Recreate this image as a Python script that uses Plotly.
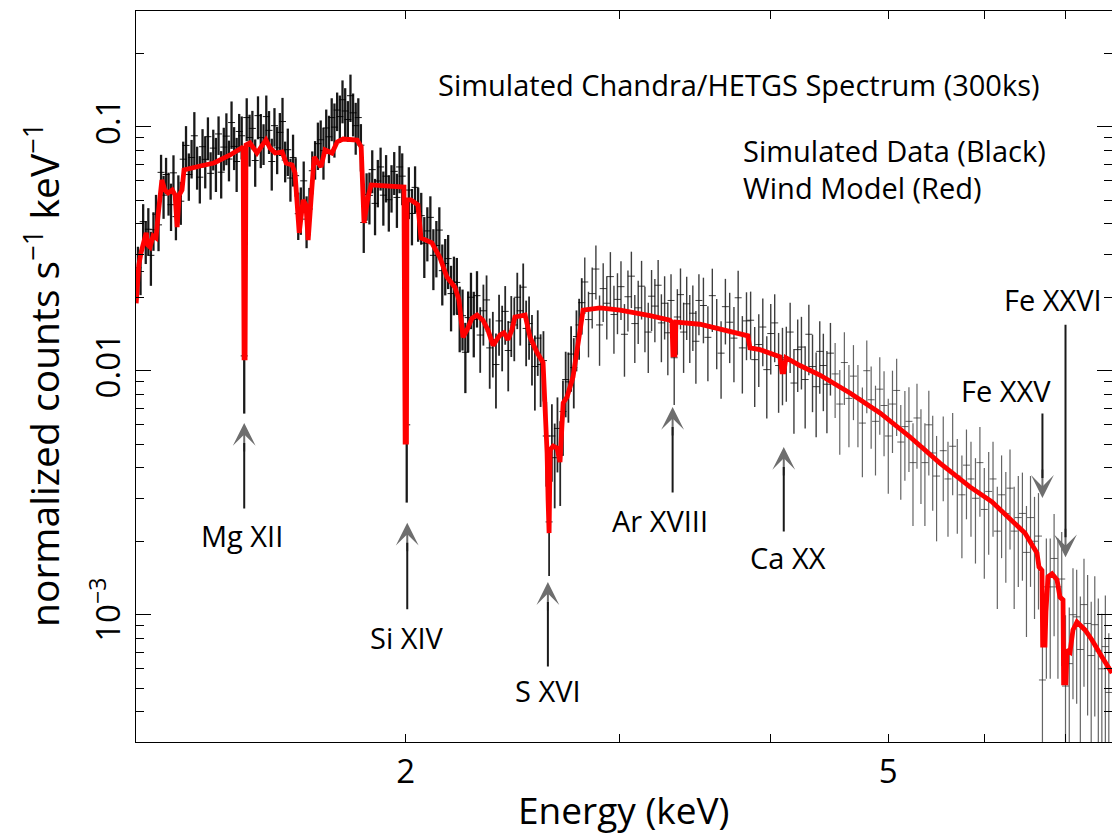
import math
import plotly.graph_objects as go

# ---------------- simulated HETGS data (energy keV, counts s^-1 keV^-1, relative error) -------------
energy_keV = [
    1.203, 1.209, 1.215, 1.221, 1.227, 1.233, 1.239, 1.245, 1.251, 1.257, 1.263, 1.269, 1.275, 1.281, 1.287, 1.293, 1.299, 1.305, 1.311,
    1.318, 1.325, 1.332, 1.339, 1.346, 1.353, 1.360, 1.367, 1.374, 1.381, 1.388, 1.395, 1.402, 1.409, 1.416, 1.423, 1.430, 1.437, 1.444, 1.451, 1.458, 1.465, 1.472,
    1.479, 1.487, 1.495, 1.503, 1.511, 1.519, 1.527, 1.535, 1.543, 1.551, 1.559, 1.567, 1.575, 1.583, 1.591, 1.599, 1.607, 1.615, 1.623, 1.631,
    1.639, 1.648, 1.657, 1.666, 1.675, 1.684, 1.693, 1.702, 1.711, 1.720, 1.729, 1.738, 1.747, 1.756, 1.765, 1.774, 1.783, 1.792, 1.801, 1.810, 1.819, 1.828,
    1.837, 1.847, 1.857, 1.867, 1.877, 1.887, 1.897, 1.907, 1.917, 1.927, 1.937, 1.947, 1.957, 1.967, 1.977, 1.987, 2.004,
    2.012, 2.024, 2.036, 2.048, 2.060, 2.072, 2.084, 2.096, 2.108, 2.120, 2.132, 2.144, 2.156, 2.168, 2.180, 2.192, 2.204, 2.216, 2.228, 2.240, 2.252, 2.264, 2.276,
    2.290, 2.304, 2.318, 2.332, 2.346, 2.360, 2.374, 2.388, 2.402, 2.416, 2.430, 2.444, 2.458, 2.472, 2.486, 2.500, 2.514, 2.528, 2.542, 2.556, 2.570, 2.584, 2.598, 2.612,
    2.626, 2.640, 2.654, 2.668, 2.682, 2.696, 2.710, 2.724, 2.738, 2.752, 2.766, 2.780, 2.794,
    2.81, 2.83, 2.85, 2.87, 2.89, 2.91, 2.93, 2.95, 2.97, 2.99, 3.01, 3.03, 3.05, 3.07, 3.09, 3.11, 3.13, 3.15, 3.17, 3.19, 3.21, 3.23, 3.25, 3.27, 3.29, 3.31, 3.33, 3.35, 3.37, 3.39, 3.41, 3.43, 3.45, 3.47, 3.49,
    3.52, 3.55, 3.58, 3.61, 3.64, 3.67, 3.70, 3.73, 3.76, 3.79, 3.82, 3.85, 3.88, 3.91, 3.94, 3.97, 4.00, 4.03, 4.06, 4.09, 4.12, 4.15, 4.18, 4.21, 4.24, 4.27, 4.30, 4.33, 4.36, 4.39, 4.42, 4.45, 4.48,
    4.52, 4.56, 4.60, 4.64, 4.68, 4.72, 4.76, 4.80, 4.84, 4.88, 4.92, 4.96, 5.00, 5.04, 5.08, 5.12, 5.16, 5.20, 5.24, 5.28, 5.32, 5.36, 5.40, 5.44, 5.48,
    5.55, 5.60, 5.65, 5.70, 5.75, 5.80, 5.85, 5.90, 5.95, 6.00, 6.05, 6.10, 6.15, 6.20, 6.25, 6.30, 6.35, 6.40, 6.45, 6.50, 6.55, 6.60, 6.65, 6.70, 6.75, 6.80, 6.85, 6.90, 6.95, 7.00, 7.05, 7.10, 7.15, 7.20, 7.25, 7.30, 7.35, 7.40, 7.45, 7.50, 7.55, 7.60,
]
counts = [
    0.0264, 0.0255, 0.0408, 0.0342, 0.0380, 0.0297, 0.0378, 0.0438, 0.0396, 0.0650, 0.0524, 0.0637, 0.0540, 0.0479, 0.0647, 0.0428, 0.0518, 0.0495, 0.0736,
    0.0838, 0.0637, 0.0748, 0.0918, 0.0690, 0.0621, 0.0828, 0.0735, 0.0910, 0.0644, 0.0817, 0.0720, 0.0934, 0.0651, 0.0825, 0.0915, 0.0737, 0.104, 0.0830, 0.0720, 0.0956, 0.0918, 0.0115,
    0.109, 0.0903, 0.0984, 0.0727, 0.111, 0.0902, 0.0860, 0.110, 0.0966, 0.0720, 0.101, 0.0819, 0.0948, 0.105, 0.0730, 0.0805, 0.0616, 0.0748, 0.0630, 0.0440,
    0.0462, 0.0600, 0.0418, 0.0460, 0.0660, 0.0740, 0.0852, 0.0884, 0.0798, 0.0988, 0.0909, 0.109, 0.0996, 0.117, 0.110, 0.129, 0.116, 0.107, 0.134, 0.114, 0.101, 0.109,
    0.0840, 0.0405, 0.0528, 0.0523, 0.0667, 0.0485, 0.0599, 0.0684, 0.0524, 0.0627, 0.0502, 0.0570, 0.0656, 0.0513, 0.0684, 0.0627, 0.0060,
    0.0550, 0.0441, 0.0564, 0.0450, 0.0432, 0.0333, 0.0374, 0.0425, 0.0297, 0.0326, 0.0377, 0.0257, 0.0275, 0.0288, 0.0207, 0.0231, 0.0230, 0.0170, 0.0168, 0.0119, 0.0165, 0.0200, 0.0162,
    0.0203, 0.0140, 0.0176, 0.0195, 0.0124, 0.0134, 0.0106, 0.0160, 0.0142, 0.0175, 0.0121, 0.0158, 0.0154, 0.0200, 0.0176, 0.0220, 0.0149, 0.0156, 0.0128, 0.0104, 0.0136, 0.0106, 0.0110, 0.0054,
    0.0024, 0.0054, 0.0044, 0.0058, 0.0045, 0.0068, 0.0092, 0.0090, 0.0117, 0.0103, 0.0138, 0.0154, 0.0190,
    0.0231, 0.0162, 0.0207, 0.0261, 0.0154, 0.0217, 0.0189, 0.0243, 0.0170, 0.0196, 0.0221, 0.0141, 0.0201, 0.0244, 0.0156, 0.0181, 0.0222, 0.0170, 0.0144, 0.0202, 0.0184, 0.0224, 0.0157, 0.0189, 0.0143, 0.0194, 0.0113, 0.0166, 0.0205, 0.0144, 0.0188, 0.0156, 0.0172, 0.0132, 0.0194,
    0.0185, 0.0137, 0.0203, 0.0149, 0.0118, 0.0183, 0.0158, 0.0136, 0.0199, 0.0124, 0.0160, 0.0161, 0.0111, 0.0128, 0.0151, 0.0101, 0.0142, 0.0157, 0.0105, 0.0111, 0.0113, 0.0144, 0.0089, 0.0122, 0.0125, 0.0092, 0.0141, 0.0104, 0.0086, 0.0120, 0.0105, 0.0088, 0.0118,
    0.0097, 0.0073, 0.0108, 0.0077, 0.0095, 0.0077, 0.0061, 0.0100, 0.0076, 0.0062, 0.0084, 0.0072, 0.0054, 0.0073, 0.0083, 0.0051, 0.0059, 0.0062, 0.0042, 0.0064, 0.0049, 0.0042, 0.0060, 0.0046, 0.0037,
    0.0047, 0.0036, 0.0049, 0.0037, 0.0031, 0.0041, 0.0036, 0.0030, 0.0042, 0.0027, 0.0032, 0.0036, 0.0022, 0.0031, 0.0026, 0.0033, 0.0022, 0.0025, 0.0026, 0.0018, 0.0025, 0.0020, 0.0021, 0.00054, 0.0013, 0.0013, 0.0017, 0.0013, 0.0014, 0.00051, 0.00063, 0.0010, 0.00098, 0.00072, 0.0011, 0.00092, 0.00068, 0.00091, 0.00071, 0.00060, 0.00074, 0.00048,
]
rel_err = [
    0.22, 0.20, 0.18, 0.20, 0.22, 0.25, 0.18, 0.20, 0.22, 0.18, 0.20, 0.17, 0.20, 0.22, 0.18, 0.20, 0.22, 0.20, 0.18,
    0.20, 0.22, 0.18, 0.25, 0.20, 0.22, 0.18, 0.24, 0.20, 0.22, 0.19, 0.25, 0.18, 0.22, 0.20, 0.24, 0.19, 0.22, 0.20, 0.25, 0.18, 0.20, 0.42,
    0.20, 0.24, 0.18, 0.22, 0.20, 0.25, 0.19, 0.22, 0.20, 0.24, 0.18, 0.22, 0.20, 0.25, 0.19, 0.22, 0.20, 0.24, 0.18, 0.22,
    0.22, 0.20, 0.24, 0.22, 0.20, 0.18, 0.22, 0.20, 0.24, 0.19, 0.22, 0.20, 0.25, 0.18, 0.22, 0.20, 0.24, 0.19, 0.22, 0.20, 0.24, 0.20,
    0.22, 0.25, 0.22, 0.24, 0.20, 0.26, 0.22, 0.20, 0.25, 0.22, 0.26, 0.22, 0.20, 0.25, 0.22, 0.24, 0.52,
    0.24, 0.26, 0.22, 0.25, 0.24, 0.28, 0.25, 0.22, 0.28, 0.26, 0.24, 0.28, 0.26, 0.25, 0.30, 0.27, 0.26, 0.30, 0.28, 0.32, 0.28, 0.26, 0.30,
    0.26, 0.30, 0.28, 0.26, 0.32, 0.30, 0.34, 0.28, 0.30, 0.27, 0.32, 0.28, 0.29, 0.26, 0.28, 0.25, 0.30, 0.29, 0.32, 0.34, 0.30, 0.33, 0.32, 0.38,
    0.40, 0.35, 0.38, 0.34, 0.38, 0.34, 0.30, 0.32, 0.30, 0.32, 0.28, 0.28, 0.26,
    0.26, 0.30, 0.28, 0.25, 0.32, 0.27, 0.29, 0.26, 0.31, 0.28, 0.27, 0.33, 0.28, 0.26, 0.31, 0.29, 0.27, 0.30, 0.32, 0.28, 0.29, 0.27, 0.31, 0.29, 0.33, 0.28, 0.36, 0.30, 0.28, 0.32, 0.29, 0.31, 0.30, 0.33, 0.28,
    0.30, 0.34, 0.29, 0.32, 0.35, 0.30, 0.32, 0.34, 0.29, 0.35, 0.31, 0.31, 0.36, 0.33, 0.31, 0.37, 0.32, 0.31, 0.36, 0.35, 0.34, 0.32, 0.38, 0.33, 0.33, 0.37, 0.32, 0.35, 0.38, 0.33, 0.35, 0.37, 0.33,
    0.34, 0.38, 0.33, 0.37, 0.34, 0.37, 0.40, 0.33, 0.37, 0.40, 0.35, 0.38, 0.42, 0.37, 0.35, 0.42, 0.40, 0.38, 0.45, 0.38, 0.42, 0.45, 0.38, 0.42, 0.46,
    0.38, 0.42, 0.37, 0.42, 0.45, 0.40, 0.42, 0.46, 0.40, 0.48, 0.45, 0.42, 0.52, 0.45, 0.48, 0.44, 0.52, 0.48, 0.47, 0.55, 0.48, 0.52, 0.50, 0.90, 0.58, 0.58, 0.52, 0.58, 0.56, 0.95, 0.70, 0.55, 0.56, 0.65, 0.54, 0.58, 0.66, 0.58, 0.64, 0.68, 0.62, 0.75,
]

# ---------------- wind model (red) ----------------
model_energy = [
    1.199, 1.205, 1.210, 1.217, 1.222, 1.226, 1.231, 1.238, 1.245, 1.250,
    1.259, 1.266, 1.274, 1.284, 1.291, 1.296, 1.301, 1.308, 1.313, 1.354,
    1.390, 1.433, 1.469, 1.4716, 1.4744, 1.477, 1.488, 1.508, 1.523, 1.534,
    1.546, 1.561, 1.582, 1.594, 1.612, 1.621, 1.634, 1.646, 1.655, 1.662,
    1.671, 1.681, 1.703, 1.716, 1.739, 1.756, 1.776, 1.824, 1.838, 1.848,
    1.855, 1.862, 1.873, 1.942, 1.9935, 1.998, 2.003, 2.005, 2.020, 2.047,
    2.059, 2.102, 2.135, 2.163, 2.196, 2.213, 2.230, 2.247, 2.268, 2.290,
    2.316, 2.338, 2.361, 2.392, 2.410, 2.429, 2.447, 2.461, 2.509, 2.533,
    2.566, 2.596, 2.611, 2.616, 2.621, 2.626, 2.631, 2.646, 2.666, 2.681,
    2.697, 2.717, 2.748, 2.774, 2.801, 2.893, 3.005, 3.180, 3.303, 3.316,
    3.322, 3.335, 3.341, 3.496, 3.701, 3.830, 3.845, 3.919, 4.070, 4.086,
    4.101, 4.117, 4.228, 4.391, 4.649, 4.922, 5.211, 5.515, 5.839, 6.088,
    6.481, 6.631, 6.656, 6.694, 6.703, 6.733, 6.745, 6.771, 6.823, 6.888,
    6.927, 6.967, 6.975, 7.006, 7.020, 7.060, 7.100, 7.154, 7.264, 7.361,
    7.502, 7.646,
]
model_counts = [
    0.0189, 0.0271, 0.0304, 0.0343, 0.0367, 0.0327, 0.0321, 0.0357, 0.0350, 0.0435,
    0.0605, 0.0550, 0.0535, 0.0550, 0.0525, 0.0388, 0.0525, 0.0550, 0.0665, 0.0690,
    0.0710, 0.0766, 0.0826, 0.0113, 0.0113, 0.0841, 0.0858, 0.0780, 0.0841, 0.0882,
    0.0818, 0.0780, 0.0788, 0.0710, 0.0697, 0.0646, 0.0367, 0.0501, 0.0478, 0.0343,
    0.0501, 0.0751, 0.0684, 0.0803, 0.0780, 0.0866, 0.0890, 0.0882, 0.0826, 0.0403,
    0.0456, 0.0515, 0.0577, 0.0571, 0.0566, 0.0051, 0.0051, 0.0501, 0.0501, 0.0478,
    0.0350, 0.0334, 0.0290, 0.0242, 0.0220, 0.0195, 0.0137, 0.0147, 0.0164, 0.0169,
    0.0161, 0.0147, 0.0127, 0.0140, 0.0143, 0.0134, 0.0147, 0.0166, 0.0169, 0.0137,
    0.0119, 0.0108, 0.00628, 0.00460, 0.00295, 0.00216, 0.00473, 0.00491, 0.00482, 0.00422,
    0.00737, 0.00780, 0.00942, 0.0127, 0.0177, 0.0181, 0.0177, 0.0168, 0.0161, 0.0158,
    0.0116, 0.0116, 0.0158, 0.0155, 0.0144, 0.0139, 0.0124, 0.0122, 0.0114, 0.00988,
    0.00988, 0.0113, 0.0105, 0.00960, 0.00810, 0.00671, 0.00535, 0.00418, 0.00334, 0.00290,
    0.00216, 0.00179, 0.00157, 0.00152, 0.000751, 0.000751, 0.00103, 0.00143, 0.00147, 0.00139,
    0.00118, 0.00115, 0.000525, 0.000525, 0.000717, 0.000703, 0.000866, 0.000933, 0.000866, 0.000788,
    0.000671, 0.000577,
]

# ---------------- line identifications ----------------
line_names = ["Mg XII", "Si XIV", "S XVI", "Ar XVIII", "Ca XX", "Fe XXV", "Fe XXVI"]
line_energy = [1.472, 2.006, 2.62, 3.32, 4.10, 6.70, 7.00]
arrow_tip = [0.0061, 0.00238, 0.00136, 0.0071, 0.00487, 0.00301, 0.00172]
arrow_len = [87, 88, 86, 87, 86, -86, -234]          # + : arrow points up, - : points down
label_energy = [1.465, 2.006, 2.62, 3.242, 4.132, 6.252, 6.835]
label_value = [0.00212, 0.00081, 0.000491, 0.00244, 0.00172, 0.00826, 0.01967]

x_major = [2, 5]
x_minor = [3, 4, 6, 7]
y_major = [0.001, 0.01, 0.1]
y_major_text = ["10<sup>\u22123</sup>", "0.01", "0.1"]
y_minor = [4e-4, 5e-4, 6e-4, 7e-4, 8e-4, 9e-4,
           0.002, 0.003, 0.004, 0.005, 0.006, 0.007, 0.008, 0.009,
           0.02, 0.03, 0.04, 0.05, 0.06, 0.07, 0.08, 0.09, 0.2]

FONT = "Open Sans, Noto Sans, DejaVu Sans, sans-serif"

n = min(len(energy_keV), len(counts), len(rel_err))
err_abs = [counts[i] * rel_err[i] for i in range(n)]

# draw the data in energy bands (darker/denser at low energy, greyer at high energy)
bands = [(0.0, 2.3, 2.3, "rgba(0,0,0,0.9)"),
         (2.3, 2.8, 1.8, "rgba(0,0,0,0.85)"),
         (2.8, 4.5, 1.4, "rgba(15,15,15,0.8)"),
         (4.5, 99.0, 1.2, "rgba(40,40,40,0.72)")]

fig = go.Figure()
for lo, hi, thick, col in bands:
    idx = [i for i in range(n) if lo <= energy_keV[i] < hi]
    fig.add_trace(go.Scatter(
        x=[energy_keV[i] for i in idx], y=[counts[i] for i in idx], mode="markers",
        marker=dict(symbol="line-ew", size=5, color=col,
                    line=dict(width=1, color=col)),
        error_y=dict(type="data", array=[err_abs[i] for i in idx], visible=True,
                     color=col, thickness=thick, width=0),
        hoverinfo="skip", showlegend=False))
fig.add_trace(go.Scatter(
    x=model_energy, y=model_counts, mode="lines", yaxis="y2",
    line=dict(color="#ff0000", width=4.8), showlegend=False))

yrange = [-3.5218, -0.5258]
tick_common = dict(ticks="inside", tickcolor="black", tickwidth=1)

fig.update_layout(
    width=1112, height=837,
    margin=dict(l=136, r=0, t=11, b=95),
    paper_bgcolor="white", plot_bgcolor="white",
    font=dict(family=FONT, color="black", size=24),
    showlegend=False,
    xaxis=dict(type="log", range=[math.log10(1.1986), math.log10(7.646)],
               tickvals=x_major, ticktext=[str(v) for v in x_major],
               ticklen=8, **tick_common,
               minor=dict(tickvals=x_minor, ticks="inside", ticklen=8,
                          tickcolor="black", showgrid=False),
               showline=True, linecolor="black", linewidth=1, mirror="ticks",
               showgrid=False, zeroline=False, ticklabelstandoff=0,
               tickfont=dict(size=33, family=FONT)),
    yaxis=dict(type="log", range=yrange,
               tickvals=y_major, ticktext=y_major_text, tickangle=-90,
               ticklen=15, **tick_common,
               minor=dict(tickvals=y_minor, ticks="inside", ticklen=8,
                          tickcolor="black", showgrid=False),
               showline=True, linecolor="black", linewidth=1, mirror=False,
               showgrid=False, zeroline=False, ticklabelstandoff=2,
               tickfont=dict(size=33, family=FONT)),
    yaxis2=dict(type="log", range=yrange, overlaying="y", side="right", anchor="x",
                tickvals=y_major, ticklen=15, **tick_common, showticklabels=False,
                minor=dict(tickvals=y_minor, ticks="inside", ticklen=8,
                           tickcolor="black", showgrid=False),
                showline=False, showgrid=False, zeroline=False),
)

ann = []
# axis titles
ann.append(dict(text="Energy (keV)", xref="paper", yref="paper", x=0.5, y=-0.1299,
                xanchor="center", yanchor="bottom", showarrow=False,
                font=dict(size=37, family=FONT)))
ann.append(dict(text="normalized counts s<sup>\u22121</sup> keV<sup>\u22121</sup>",
                xref="paper", yref="paper", x=-0.0964, y=0.502, textangle=-90,
                xanchor="center", yanchor="middle", showarrow=False,
                font=dict(size=39, family=FONT)))
# header texts
ann.append(dict(text="Simulated Chandra/HETGS Spectrum (300ks)", xref="paper", yref="paper",
                x=0.9283, y=0.8988, xanchor="right", yanchor="middle", showarrow=False,
                font=dict(size=29, family=FONT)))
ann.append(dict(text="Simulated Data (Black)", xref="paper", yref="paper",
                x=0.6199, y=0.8098, xanchor="left", yanchor="middle", showarrow=False,
                font=dict(size=29, family=FONT)))
ann.append(dict(text="Wind Model (Red)", xref="paper", yref="paper",
                x=0.6199, y=0.7579, xanchor="left", yanchor="middle", showarrow=False,
                font=dict(size=29, family=FONT)))

for name, le, tip, L, lx, lv in zip(line_names, line_energy, arrow_tip, arrow_len,
                                    label_energy, label_value):
    ax_e = math.log10(le)
    ay_v = math.log10(tip)
    sgn = 1 if L > 0 else -1
    # grey arrow head
    ann.append(dict(x=ax_e, y=ay_v, xref="x", yref="y", text="", showarrow=True,
                    ax=0, ay=sgn * 30, arrowhead=3, arrowsize=1.9, arrowwidth=2,
                    arrowcolor="#6e6e6e"))
    # black shaft
    ann.append(dict(x=ax_e, y=ay_v, xref="x", yref="y", text="", showarrow=True,
                    ax=0, ay=L, arrowhead=0, arrowwidth=2, standoff=20,
                    arrowcolor="#1a1a1a"))
    ann.append(dict(x=math.log10(lx), y=math.log10(lv), xref="x", yref="y", text=name,
                    showarrow=False, xanchor="center", yanchor="middle",
                    font=dict(size=29, family=FONT)))

fig.update_layout(annotations=ann)
fig.write_html("out.html")
